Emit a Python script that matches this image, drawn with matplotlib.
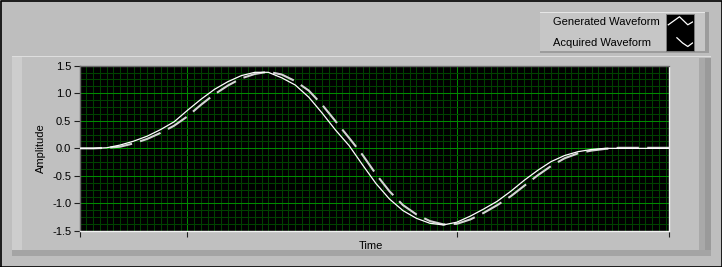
import numpy as np
import matplotlib
matplotlib.use("Agg")
import matplotlib.pyplot as plt
from matplotlib.patches import Rectangle
from matplotlib.lines import Line2D

plt.rcParams['font.family'] = ['Liberation Sans', 'DejaVu Sans']
plt.rcParams['lines.scale_dashes'] = False

# samples (time in arbitrary sample units)
time = [0, 2, 4, 6, 8, 10, 12, 14, 16, 18, 20, 22, 24, 26, 28, 30, 32, 34, 36, 38,
        40, 42, 44, 46, 48, 50, 52, 54, 56, 58, 60, 62, 64, 66, 68, 70, 72, 74, 76,
        78, 80, 82, 84, 86, 87.5]
generated = [0, 0, 0.01, 0.06, 0.13, 0.22, 0.34, 0.48, 0.69, 0.89, 1.07, 1.21, 1.32,
             1.38, 1.38, 1.28, 1.15, 0.93, 0.64, 0.33, 0.05, -0.30, -0.64, -0.92,
             -1.13, -1.27, -1.36, -1.39, -1.34, -1.23, -1.10, -0.96, -0.78, -0.58,
             -0.40, -0.24, -0.13, -0.06, -0.02, 0, 0, 0, 0, 0, 0]
acquired = [0, 0, 0.01, 0.03, 0.09, 0.17, 0.28, 0.41, 0.58, 0.79, 0.98, 1.14, 1.27,
            1.35, 1.39, 1.34, 1.22, 1.05, 0.79, 0.49, 0.19, -0.12, -0.47, -0.78,
            -1.03, -1.20, -1.32, -1.38, -1.37, -1.29, -1.17, -1.03, -0.87, -0.68,
            -0.49, -0.32, -0.18, -0.09, -0.04, -0.01, 0.01, 0.01, 0.01, 0.01, 0.01]
labels = ["Generated Waveform", "Acquired Waveform"]
y_ticks = [-1.5, -1.0, -0.5, 0.0, 0.5, 1.0, 1.5]
x_major = [0, 16, 56, 87.5]

W, H = 722, 267
fig = plt.figure(figsize=(W / 100, H / 100), dpi=100)
fig.patch.set_facecolor('#bebebe')


def px_rect(x0, y0, x1, y1, **kw):
    # rectangle given in pixel coords (origin top-left), kept behind the axes
    r = Rectangle((x0 / W, 1 - y1 / H), (x1 - x0) / W, (y1 - y0) / H,
                  transform=fig.transFigure, zorder=-5, **kw)
    fig.add_artist(r)
    return r


# graph frame panel
px_rect(12, 56, 711, 256, facecolor='#c0c0c0', edgecolor='none')
px_rect(12, 56, 22, 256, facecolor='#cdcdcd', edgecolor='none')
px_rect(699, 58, 705, 250, facecolor='#a9a9a9', edgecolor='none')
px_rect(705, 58, 711, 256, facecolor='#9a9a9a', edgecolor='none')
px_rect(12, 250, 711, 256, facecolor='#a4a4a4', edgecolor='none')
px_rect(12, 56, 711, 57, facecolor='#dedede', edgecolor='none')

# legend panel
px_rect(540, 12, 709, 53, facecolor='#c6c6c6', edgecolor='none')
px_rect(540, 12, 709, 13, facecolor='#e6e6e6', edgecolor='none')
px_rect(705, 12, 709, 53, facecolor='#9c9c9c', edgecolor='none')
px_rect(540, 51, 709, 53, facecolor='#9c9c9c', edgecolor='none')
px_rect(666, 14, 694, 51, facecolor='black', edgecolor='#808080', linewidth=0.6)
fig.text(553 / W, 1 - 22 / H, labels[0], fontsize=8, va='center', ha='left')
fig.text(553 / W, 1 - 43 / H, labels[1], fontsize=8, va='center', ha='left')

# legend glyphs in a tiny axes over the black box
gax = fig.add_axes([667 / W, 1 - 50 / H, 26 / W, 35 / H])
gax.set_xlim(0, 1)
gax.set_ylim(0, 1)
gax.axis('off')
gax.plot([0.05, 0.48, 0.8, 0.98], [0.72, 0.95, 0.72, 0.8], color='white', lw=0.9)
gax.plot([0.38, 0.6, 0.8, 0.98], [0.35, 0.2, 0.1, 0.2], color='white', lw=0.9)

# plot area
ax = fig.add_axes([79.7 / W, 1 - 231 / H, 589.3 / W, 165.3 / H])
ax.set_facecolor('black')
ax.set_xlim(0, 87.5)
ax.set_ylim(-1.5, 1.5)

ax.set_xticks(x_major)
ax.set_xticks(np.arange(1, 88, 1), minor=True)
ax.set_yticks(y_ticks)
ax.set_yticks(np.arange(-1.5, 1.51, 0.125), minor=True)
ax.set_xticklabels([])
ax.set_yticklabels(["%.1f" % v for v in y_ticks])
ax.grid(True, which='minor', color='#004200', linewidth=0.75)
ax.grid(True, which='major', color='#008a00', linewidth=0.75)
ax.set_axisbelow(True)
ax.tick_params(which='minor', length=0)
ax.tick_params(axis='y', which='major', direction='out', length=4.5, width=0.8,
               color='#202020', pad=1.5, labelsize=8)
ax.tick_params(axis='x', which='major', direction='out', length=4, width=0.8,
               color='#202020', pad=1)
for side in ['left', 'top']:
    ax.spines[side].set_color('#6a6a6a')
for side in ['right', 'bottom']:
    ax.spines[side].set_color('#f2f2f2')
for s in ax.spines.values():
    s.set_linewidth(1.0)

ax.plot(time, acquired, color='#d4d4d4', lw=1.5, linestyle=(0, (16, 6)),
        solid_capstyle='butt', dash_capstyle='butt', zorder=3)
ax.plot(time, generated, color='white', lw=0.9, zorder=4)

fig.text(41 / W, 1 - 148 / H, "Amplitude", fontsize=8, rotation=90,
         ha='center', va='center')
fig.text(371 / W, 1 - 246 / H, "Time", fontsize=8, ha='center', va='center')

# outer black border
fig.add_artist(Line2D([0.5 / W, 0.5 / W, 1 - 0.5 / W, 1 - 0.5 / W, 0.5 / W],
                      [0.5 / H, 1 - 0.5 / H, 1 - 0.5 / H, 0.5 / H, 0.5 / H],
                      transform=fig.transFigure, color='black', lw=1.2))

fig.savefig("out.png", dpi=100, facecolor=fig.get_facecolor())
